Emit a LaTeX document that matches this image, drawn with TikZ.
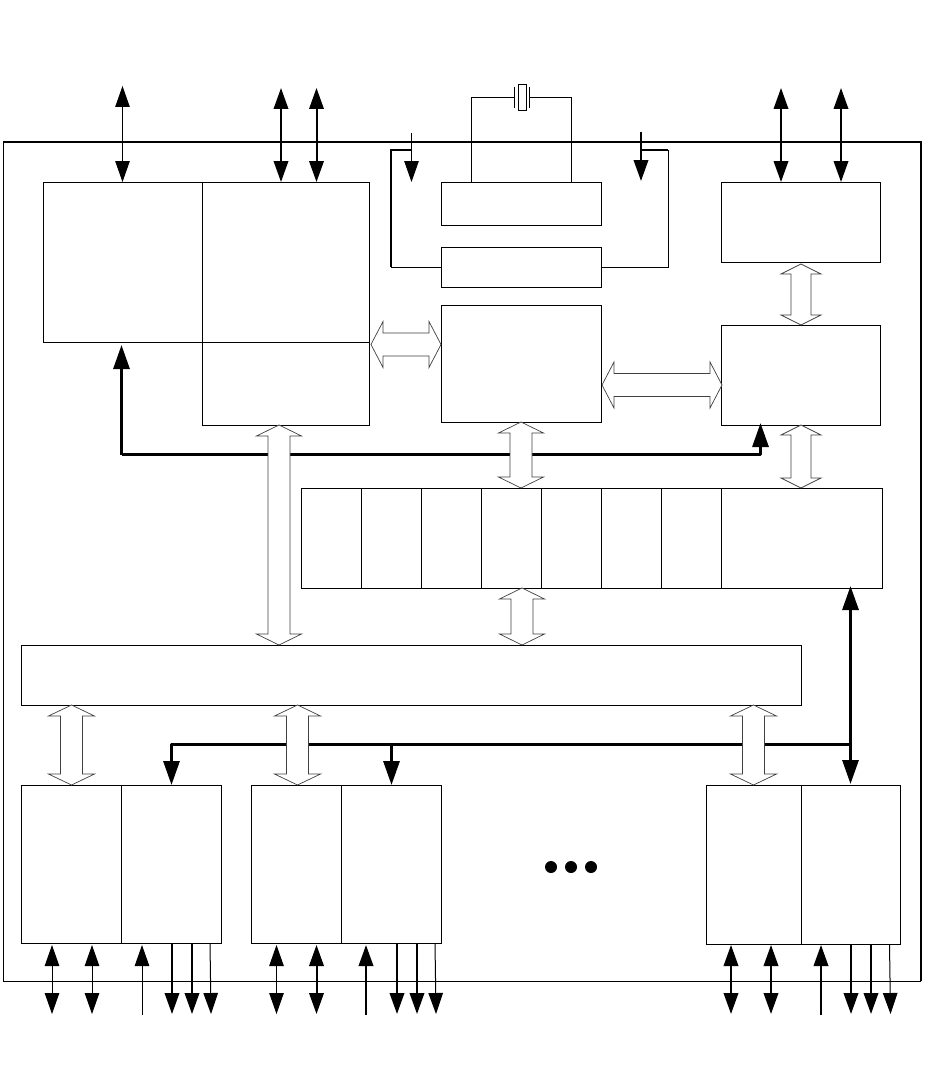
\documentclass[tikz,border=0pt]{standalone}
\usetikzlibrary{arrows.meta,calc}
\tikzset{
  blk/.style={draw=black,line width=1pt,fill=white,inner sep=0pt,outer sep=0pt,anchor=north west},
  wire/.style={draw=black,line width=1pt},
  thk/.style={draw=black,line width=2pt},
  hvy/.style={draw=black,line width=3pt,line join=round},
  tip/.tip={Triangle[length=21pt,width=14.5pt]},
  bigtip/.tip={Triangle[length=24pt,width=16pt]},
  vblock/.style n args={3}{draw=black!75,line width=.7pt,fill=white,
    to path={-- ($(\tikztostart)+(#1,#3)$) -- ($(\tikztostart)+(#2,#3)$)
      -- ($(\tikztotarget)+(#2,-#3)$) -- ($(\tikztotarget)+(#1,-#3)$)
      -- (\tikztotarget) -- ($(\tikztotarget)+(-#1,-#3)$) -- ($(\tikztotarget)+(-#2,-#3)$)
      -- ($(\tikztostart)+(-#2,#3)$) -- ($(\tikztostart)+(-#1,#3)$) -- cycle}},
  hblock/.style n args={3}{draw=black!75,line width=.7pt,fill=white,
    to path={-- ($(\tikztostart)+(#3,#1)$) -- ($(\tikztostart)+(#3,#2)$)
      -- ($(\tikztotarget)+(-#3,#2)$) -- ($(\tikztotarget)+(-#3,#1)$)
      -- (\tikztotarget) -- ($(\tikztotarget)+(-#3,-#1)$) -- ($(\tikztotarget)+(-#3,-#2)$)
      -- ($(\tikztostart)+(#3,-#2)$) -- ($(\tikztostart)+(#3,-#1)$) -- cycle}},
}
\newcommand{\blkbox}[5]{\node[blk,minimum width=#4pt,minimum height=#5pt] (#1) at (#2,#3) {};}
\begin{document}
\begin{tikzpicture}[x=1pt,y=-1pt]
\useasboundingbox (0,0) rectangle (926,1089);
\fill[white] (0,0) rectangle (926,1089);
% chip outline
\coordinate (chipTL) at (3,142);
\coordinate (chipTR) at (921,142);
\coordinate (chipBR) at (921,981);
\coordinate (chipBL) at (3,981);
\draw[wire] (chipBR) -- (chipBL) -- (chipTL);
\draw[draw=black,line width=1.7pt,line join=miter] (chipTL) -- (chipTR) -- (chipBR);
% blocks
\blkbox{A}{43}{182}{159}{160}
\blkbox{B}{202}{182}{167}{160}
\blkbox{C}{202}{342}{167}{83}
\blkbox{D}{441}{182}{160}{43}
\blkbox{E}{441}{247}{160}{40}
\blkbox{F}{441}{305}{160}{117}
\blkbox{G}{721}{182}{159}{80}
\blkbox{H}{721}{325}{159}{100}
\blkbox{R1}{301}{488}{60}{100}
\blkbox{R2}{361}{488}{60}{100}
\blkbox{R3}{421}{488}{60}{100}
\blkbox{R4}{481}{488}{60}{100}
\blkbox{R5}{541}{488}{60}{100}
\blkbox{R6}{601}{488}{60}{100}
\blkbox{R7}{661}{488}{60}{100}
\blkbox{R8}{721}{488}{161}{100}
\blkbox{BUS}{21}{645}{780}{60}
\blkbox{PA}{21}{785}{100}{158}
\blkbox{QA}{121}{785}{100}{158}
\blkbox{PB}{251}{785}{90}{158}
\blkbox{QB}{341}{785}{100}{158}
\blkbox{PC}{706}{785}{95}{159}
\blkbox{QC}{801}{785}{99}{159}
% dots
\node[circle,fill=black,inner sep=0pt,minimum size=12pt] (dot1) at (551,867) {};
\node[circle,fill=black,inner sep=0pt,minimum size=12pt] (dot2) at (571,867) {};
\node[circle,fill=black,inner sep=0pt,minimum size=12pt] (dot3) at (591,867) {};
% top pins
\coordinate (tp1) at (122.5,86);
\coordinate (tp2) at (281,88);
\coordinate (tp3) at (316.5,88);
\coordinate (tp4) at (781,88);
\coordinate (tp5) at (841,88);
\draw[wire,tip-tip] (tp1) -- (tp1 |- A.north);
\draw[thk,tip-tip] (tp2) -- (tp2 |- B.north);
\draw[thk,tip-tip] (tp3) -- (tp3 |- B.north);
\draw[thk,tip-tip] (tp4) -- (tp4 |- G.north);
\draw[thk,tip-tip] (tp5) -- (tp5 |- G.north);
% crystal
\coordinate (xl) at (471,97.5);
\coordinate (xr) at (571,97.5);
\coordinate (xpl) at (514,97.5);
\coordinate (xpr) at (529,97.5);
\node[draw=black,line width=1pt,inner sep=0pt,minimum width=8pt,minimum height=26pt] (xtal) at (522,98) {};
\draw[wire] (xl |- D.north) -- (xl) -- (xpl);
\draw[wire] (xr |- D.north) -- (xr) -- (xpr);
\draw[wire] (514,87) -- (514,108);
\draw[wire] (529,87) -- (529,108);
% supply pins
\coordinate (vl) at (411.5,133);
\coordinate (vr) at (641,132);
\coordinate (vlj) at (411.5,150);
\coordinate (vrj) at (641,150);
\coordinate (vlc) at (391,150);
\coordinate (vrc) at (668,150);
\draw[wire,-tip] (vl) -- (vl |- D.north);
\draw[thk,-tip] (vr) -- (641,181);
\draw[thk] (vlj) -- (vlc) -- (vlc |- E.west);
\draw[wire] (vlc |- E.west) -- (E.west);
\draw[draw=black,line width=1.5pt] (vrj) -- (vrc);
\draw[wire] (vrc) -- (vrc |- E.east) -- (E.east);
% heavy control buses
\coordinate (ctl) at (121.5,454.5);
\coordinate (ctr) at (760.5,454.5);
\draw[hvy,-bigtip] (ctl) -- (121.5,345);
\draw[hvy,-bigtip] (ctl) -- (ctr) -- (760.5,423);
\coordinate (ps) at (850.5,744);
\coordinate (p1) at (171.5,744);
\coordinate (p2) at (391.5,744);
\draw[hvy,bigtip-bigtip] (850.5,586) -- (850.5,784);
\draw[hvy,-bigtip] (ps) -- (p1) -- (p1 |- QA.north);
\draw[hvy,-bigtip] (p2) -- (p2 |- QB.north);
% block arrows
\path[hblock={23}{11.5}{12}] (371,344.5) to (F.west |- 441,344.5);
\path[hblock={23}{11.5}{12}] (602,385) to (722,385);
\coordinate (a1) at (521,422);
\path[vblock={22.5}{11}{11}] (a1) to (a1 |- R1.north);
\coordinate (a2) at (801,264);
\path[vblock={20}{10}{10}] (a2) to (a2 |- H.north);
\coordinate (a3) at (801,425);
\path[vblock={20}{10}{10}] (a3) to (a3 |- R8.north);
\coordinate (a4) at (279,425);
\path[vblock={22.5}{11}{11}] (a4) to (a4 |- BUS.north);
\coordinate (a5) at (522,588);
\path[vblock={22.5}{11}{11}] (a5) to (a5 |- BUS.north);
\coordinate (a6) at (71.5,705);
\path[vblock={23}{11}{11}] (a6) to (a6 |- PA.north);
\coordinate (a7) at (297.5,705);
\path[vblock={23}{11}{11}] (a7) to (a7 |- PB.north);
\coordinate (a8) at (753.5,705);
\path[vblock={23}{11}{11}] (a8) to (a8 |- PC.north);
% bottom pins
\foreach \n/\x/\kind in {a/52/wire,b/92/wire,c/276.5/wire,d/316.5/thk,e/731/thk,f/771/thk}{
  \coordinate (bp\n) at (\x,1014);
  \draw[\kind,tip-tip] (\x,945) -- (bp\n);
}
\foreach \n/\x/\kind in {a/142/wire,b/366/thk,c/821/thk}{
  \coordinate (bu\n) at (\x,1015);
  \draw[\kind,-tip] (bu\n) -- (\x,945);
}
\foreach \n/\x/\kind/\blkname in {a/172/thk/QA,b/192/thk/QA,c/417/thk/QB,d/397/thk/QB,e/851/thk/QC,f/871/thk/QC}{
  \coordinate (bd\n) at (\x,1014);
  \draw[\kind,-tip] (bd\n |- \blkname.south) -- (bd\n);
}
\coordinate (bdg) at (211,1014);
\coordinate (bdh) at (436,1014);
\coordinate (bdi) at (890.5,1014);
\draw[wire,-tip] (210,943) -- (bdg);
\draw[wire,-tip] (435,943) -- (bdh);
\draw[wire,-tip] (889.5,944) -- (bdi);
\end{tikzpicture}
\end{document}
